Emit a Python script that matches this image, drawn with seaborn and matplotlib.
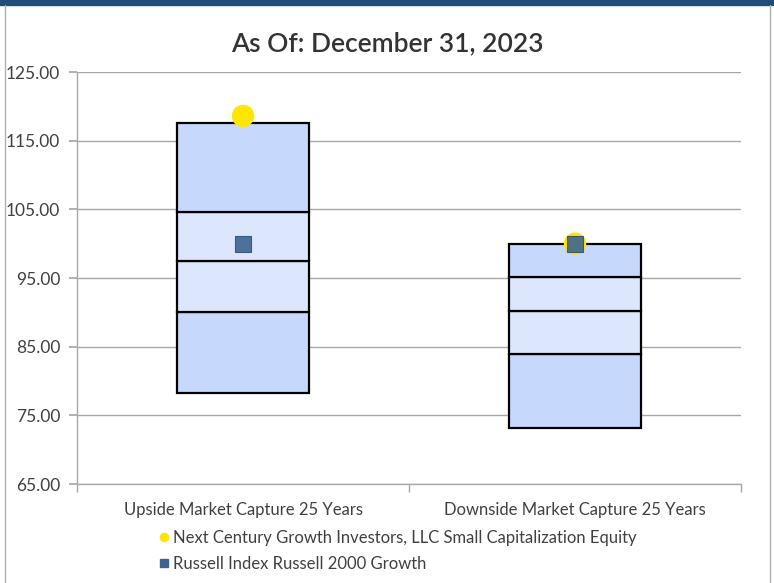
import matplotlib
matplotlib.use("Agg")
import matplotlib.pyplot as plt
import matplotlib.patches as mpatches
from matplotlib.lines import Line2D
import pandas as pd
import seaborn as sns

categories = ["Upside Market Capture 25 Years", "Downside Market Capture 25 Years"]
# band edges (bottom -> top) for each category: 5th, 25th, median, 75th, 95th
band_low = [78.3, 73.2]
band_q1 = [90.1, 83.9]
band_med = [97.5, 90.2]
band_q3 = [104.6, 95.1]
band_high = [117.6, 100.0]
fund_values = [118.6, 100.0]
index_values = [100.0, 100.0]
fund_name = "Next Century Growth Investors, LLC Small Capitalization Equity"
index_name = "Russell Index Russell 2000 Growth"
y_ticks = [65, 75, 85, 95, 105, 115, 125]

outer_color = "#C6D9FD"
inner_color = "#DCE6FD"
text_color = "#404040"
grid_color = "#A8A8A8"

sns.set_theme(style="white")
plt.rcParams["font.family"] = ["Lato", "DejaVu Sans"]

fig = plt.figure(figsize=(7.74, 5.83), dpi=100)
ax = fig.add_axes([77 / 774, 1 - 484 / 583, (741 - 77) / 774, (484 - 72) / 583])

segments = [
    (band_low, band_q1, outer_color),
    (band_q1, band_med, inner_color),
    (band_med, band_q3, inner_color),
    (band_q3, band_high, outer_color),
]
for lo, hi, col in segments:
    seg = pd.DataFrame({"category": categories,
                        "height": [h - l for l, h in zip(lo, hi)]})
    sns.barplot(data=seg, x="category", y="height", bottom=lo, color=col,
                width=0.4, errorbar=None, edgecolor="black", linewidth=1.6,
                saturation=1, ax=ax, zorder=2)

points = pd.DataFrame({"category": categories, "fund": fund_values, "index": index_values})
sns.scatterplot(data=points, x="category", y="fund", marker="o", s=260,
                color="#FFE600", edgecolor="none", ax=ax, zorder=3)
sns.scatterplot(data=points, x="category", y="index", marker="s", s=130,
                color="#3D6491", edgecolor="#2F5378", linewidth=0.8, alpha=0.9,
                ax=ax, zorder=4)

ax.set_xlim(-0.5, 1.5)
ax.set_ylim(65, 125)
ax.set_yticks(y_ticks)
ax.set_yticklabels([f"{v:.2f}" for v in y_ticks], fontsize=12.5, color=text_color)
ax.yaxis.grid(True, color=grid_color, linewidth=1)
ax.set_axisbelow(True)
ax.set_xlabel("")
ax.set_ylabel("")
ax.tick_params(axis="x", which="major", length=0, labelsize=12, labelcolor=text_color, pad=13)
ax.set_xticks([-0.5, 0.5, 1.5], minor=True)
ax.tick_params(axis="x", which="minor", length=6, color=grid_color, direction="out", bottom=True)
ax.tick_params(axis="y", length=6, color=grid_color, direction="out", left=True, pad=6)
for side in ["top", "right"]:
    ax.spines[side].set_visible(False)
for side in ["left", "bottom"]:
    ax.spines[side].set_color(grid_color)
    ax.spines[side].set_linewidth(1)

fig.text(0.5, 1 - 44 / 583, "As Of: December 31, 2023", ha="center", va="center",
         fontsize=19, fontweight="semibold", color="#333333")

handles = [
    Line2D([], [], marker="o", linestyle="none", markersize=6, color="#FFE600"),
    Line2D([], [], marker="s", linestyle="none", markersize=6, color="#3D6491"),
]
fig.legend(handles, [fund_name, index_name], loc="upper left",
           bbox_to_anchor=(152 / 774, 1 - 523 / 583), frameon=False,
           fontsize=12, labelcolor=text_color, handlelength=0.6, handletextpad=0.25,
           labelspacing=0.6, borderaxespad=0)

# page frame
fig.patches.append(mpatches.Rectangle((0, 1 - 5 / 583), 1, 5 / 583, transform=fig.transFigure,
                                      color="#1F4E79", zorder=0))
fig.add_artist(Line2D([5 / 774, 5 / 774], [0, 1 - 5 / 583], color="#B0B0B0", linewidth=1))
fig.add_artist(Line2D([770 / 774, 770 / 774], [0, 1 - 5 / 583], color="#B0B0B0", linewidth=1))

fig.savefig("out.png", dpi=100)
